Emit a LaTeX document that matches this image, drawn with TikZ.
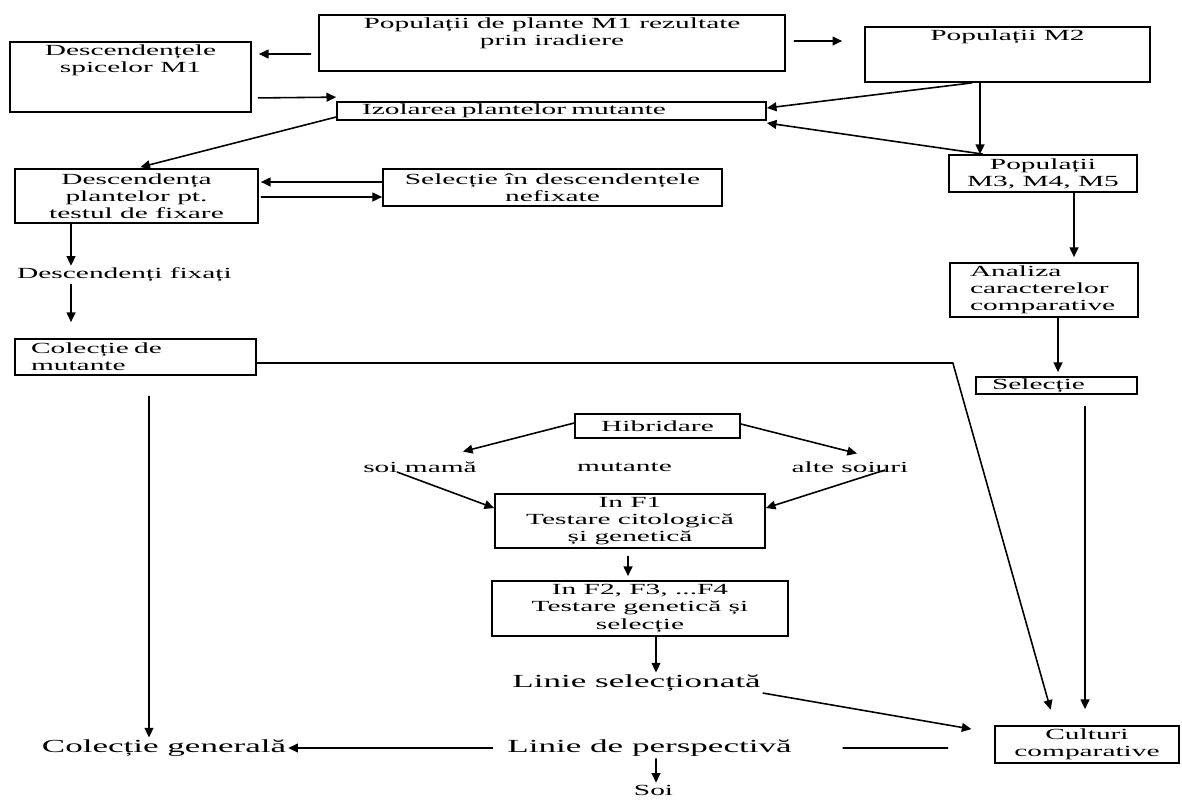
\documentclass[tikz,border=0pt]{standalone}
\usepackage{fontspec}
\setmainfont{Liberation Serif}[FakeStretch=1.9]
\usetikzlibrary{arrows.meta}

\begin{document}
\begin{tikzpicture}[
  x=0.02cm, y=-0.02cm,
  every node/.style={font=\fontsize{8.8}{9.8}\selectfont},
  frame/.style={rectangle, draw, line width=1pt, inner sep=0pt, align=center},
  inlbl/.style={anchor=north, align=center, inner sep=2pt},
  txt/.style={inner sep=1pt},
  bigtxt/.style={inner sep=1pt, font=\fontsize{10.5}{12}\selectfont},
  arr/.style={-{Triangle[length=5.5pt,width=5pt]}, line width=0.9pt},
  plain/.style={line width=0.9pt}
]
\useasboundingbox (0,0) rectangle (1182,799);

% Coordinates are pixels of the original sheet, y running down.
% Top row: irradiated M1 plants, their offspring and M2.
\node[frame, minimum width=9.32cm, minimum height=1.12cm,
  label={[inlbl]north:Populații de plante M1 rezultate\\prin iradiere}] (P1) at (552,43) {};
\node[frame, minimum width=4.82cm, minimum height=1.40cm,
  label={[inlbl]north:Descendențele\\spicelor M1}] (D1) at (130.5,77) {};
\node[frame, minimum width=5.70cm, minimum height=1.10cm,
  label={[inlbl]north:Populații M2}] (P2) at (1007.5,54.5) {};
\node[frame, text width=7.58cm, inner xsep=0.5cm, minimum height=0.36cm, align=left] (Iz) at (551.5,111) {Izolarea plantelor mutante};

% Left column: fixation test and the mutant collection.
\node[frame, minimum width=4.86cm, minimum height=1.08cm] (Desc) at (136.5,196) {Descendența\\plantelor pt.\\testul de fixare};
\node[frame, minimum width=6.78cm, minimum height=0.74cm] (Sel) at (552.5,187.5) {Selecție în descendențele\\nefixate};
\node[txt] (fix) at (124.5,275) {Descendenți fixați};
\node[frame, text width=4.18cm, inner xsep=0.32cm, minimum height=0.72cm, align=left] (Col) at (135.5,357) {Colecție de\\mutante};

% Right column: later generations.
\node[frame, minimum width=3.76cm, minimum height=0.74cm] (Pop3) at (1043,173.5) {Populații\\M3, M4, M5};
\node[frame, text width=2.96cm, inner xsep=0.4cm, minimum height=1.08cm, align=left] (An) at (1044,290) {Analiza\\caracterelor\\comparative};
\node[frame, text width=2.58cm, inner xsep=0.32cm, minimum height=0.34cm, align=left] (Selc) at (1056.5,385.5) {Selecție};

% Middle: crossing and testing.
\node[frame, minimum width=3.30cm, minimum height=0.48cm] (Hib) at (657.5,426) {Hibridare};
\node[txt] (mama) at (420,467) {soi mamă};
\node[txt] (mut) at (624.5,467) {mutante};
\node[txt] (alte) at (850,467) {alte soiuri};
\node[frame, minimum width=5.40cm, minimum height=1.08cm] (F1) at (630,521) {In F1\\Testare citologică\\și genetică};
\node[frame, minimum width=5.92cm, minimum height=1.10cm] (F2) at (640,608.5) {In F2, F3, ...F4\\Testare genetică și\\selecție};
\node[bigtxt] (linsel) at (636.5,683) {Linie selecționată};
\node[bigtxt] (linpersp) at (649.5,748) {Linie de perspectivă};
\node[txt] (soi) at (653.5,790) {Soi};
\node[bigtxt] (gen) at (164,748) {Colecție generală};
\node[frame, minimum width=3.68cm, minimum height=0.74cm] (Cult) at (1087,744.5) {Culturi\\comparative};

% M1 to its offspring, to isolation and to M2.
\draw[arr, shorten <=0.14cm, shorten >=0.14cm] ([yshift=-0.22cm]P1.west) -- ([yshift=0.46cm]D1.east);
\draw[arr, shorten <=0.12cm] ([yshift=-0.42cm]D1.east) -- ([yshift=0.08cm]Iz.north west);
\draw[arr, shorten <=0.16cm, shorten >=0.44cm] ([yshift=0.04cm]P1.east) -- ([yshift=0.27cm]P2.west);

% M2 feeds isolation and the M3-M5 populations.
\draw[arr] ([xshift=-0.71cm]P2.south) -- ([yshift=0.06cm]Iz.east);
\draw[arr] ([xshift=-0.55cm]P2.south) -- ([xshift=-1.26cm]Pop3.north);
\draw[arr] ([xshift=-1.2cm]Pop3.north) -- ([yshift=-0.24cm]Iz.east);
\draw[arr, shorten >=0.08cm] ([yshift=-0.12cm]Iz.west) -- (Desc.north);

% Fixation test on the left.
\draw[arr, shorten >=0.04cm] ([yshift=0.11cm]Sel.west) -- ([yshift=0.28cm]Desc.east);
\draw[arr, shorten <=0.04cm] ([yshift=-0.02cm]Desc.east) -- ([yshift=-0.19cm]Sel.west);
\draw[arr] ([xshift=-1.31cm]Desc.south) -- ([xshift=-1.07cm]fix.north);
\draw[arr, shorten >=0.32cm] ([xshift=-1.07cm]fix.south) -- ([xshift=-1.29cm]Col.north);
\draw[arr, shorten <=0.4cm] ([xshift=0.27cm]Col.south) -- ([xshift=-0.3cm]gen.north);
\draw[arr, shorten >=0.32cm] ([yshift=-0.12cm]Col.east) -- ++(696,0) -- ([xshift=-0.64cm]Cult.north);

% Right column down to the comparative cultures.
\draw[arr, shorten >=0.1cm] ([xshift=0.62cm]Pop3.south) -- ([xshift=0.6cm]An.north);
\draw[arr, shorten >=0.08cm] ([xshift=0.28cm]An.south) -- ([xshift=0.03cm]Selc.north);
\draw[arr, shorten <=0.22cm, shorten >=0.32cm] ([xshift=0.57cm]Selc.south) -- ([xshift=-0.04cm]Cult.north);

% Crossing, testing and the selected lines.
\draw[arr] ([yshift=0.06cm]Hib.west) -- ([xshift=0.86cm, yshift=0.16cm]mama.north);
\draw[arr] ([yshift=0.04cm]Hib.east) -- ([xshift=0.14cm, yshift=0.12cm]alte.north);
\draw[arr] ([xshift=-0.46cm, yshift=-0.1cm]mama.center) -- ([yshift=0.26cm]F1.west);
\draw[arr] ([xshift=0.7cm, yshift=-0.06cm]alte.center) -- ([yshift=0.26cm]F1.east);
\draw[arr, shorten <=0.14cm, shorten >=0.08cm] ([xshift=-0.04cm]F1.south) -- ([xshift=-0.24cm]F2.north);
\draw[arr] ([xshift=0.32cm]F2.south) -- ([xshift=0.39cm]linsel.north);
\draw[arr, shorten >=0.46cm] ([yshift=-0.2cm]linsel.east) -- ([yshift=0.23cm]Cult.west);
\draw[arr, shorten <=0.24cm] (linpersp.west) -- (gen.east);
\draw[plain, shorten <=0.92cm, shorten >=0.98cm] ([yshift=-0.07cm]Cult.west) -- (linpersp.east);
\draw[arr] ([xshift=0.13cm]linpersp.south) -- ([xshift=0.05cm]soi.north);

\end{tikzpicture}
\end{document}
